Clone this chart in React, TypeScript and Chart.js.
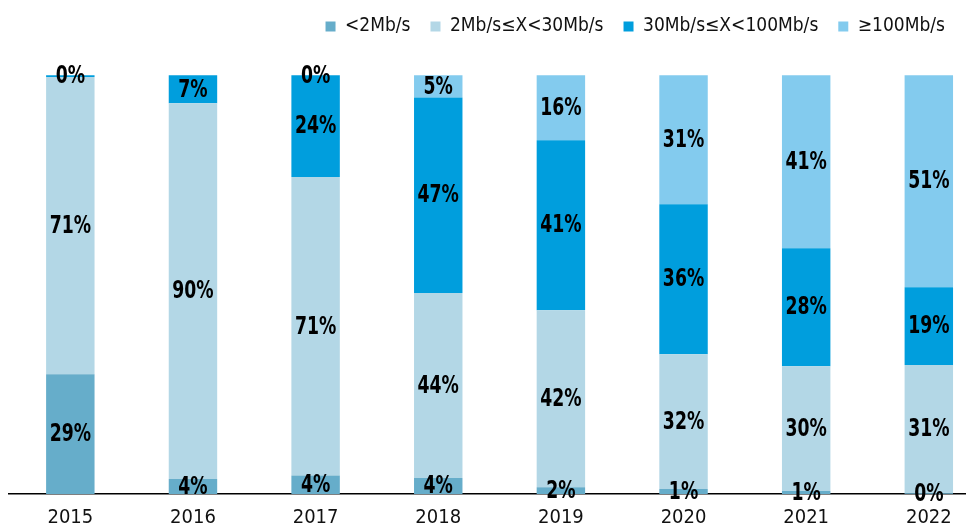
import { useEffect, useRef } from 'react';
import { Chart, registerables } from 'chart.js';

Chart.register(...registerables);

// ---- data ----
const categories = ['2015', '2016', '2017', '2018', '2019', '2020', '2021', '2022'];
const seriesNames = ['<2Mb/s', '2Mb/s≤X<30Mb/s', '30Mb/s≤X<100Mb/s', '≥100Mb/s'];
const below2 = [28.6, 3.6, 4.4, 3.8, 1.6, 1.2, 0.7, 0.2];
const from2to30 = [71.0, 89.7, 71.3, 44.2, 42.3, 32.2, 29.8, 30.6];
const from30to100 = [0.4, 6.7, 24.3, 46.7, 40.6, 35.8, 28.2, 18.6];
const above100: (number | null)[] = [null, null, 0, 5.3, 15.5, 30.8, 41.3, 50.6];
const seriesColors = ['#66ADCA', '#B3D7E6', '#009EDD', '#83CBEE'];

const FONT = '"DejaVu Sans Condensed", "DejaVu Sans", sans-serif';

const valueLabels = {
  id: 'valueLabels',
  afterDatasetsDraw(chart: any) {
    const ctx = chart.ctx;
    chart.data.datasets.forEach((ds: any, di: number) => {
      const meta = chart.getDatasetMeta(di);
      meta.data.forEach((bar: any, i: number) => {
        const v = ds.data[i].y;
        if (v === null || v === undefined) return;
        const p = bar.getProps(['x', 'y', 'base'], true);
        ctx.save();
        ctx.font = `bold 24px ${FONT}`;
        ctx.fillStyle = '#000';
        ctx.textAlign = 'center';
        ctx.textBaseline = 'middle';
        ctx.translate(p.x, (p.y + p.base) / 2);
        ctx.scale(0.8, 1);
        ctx.fillText(Math.round(v) + '%', 0, 1);
        ctx.restore();
      });
    });
  },
};

export default function App() {
  const ref = useRef<HTMLCanvasElement | null>(null);

  useEffect(() => {
    document.body.style.overflow = 'hidden';
    document.documentElement.style.overflow = 'hidden';
    if (!ref.current) return;
    const series = [below2, from2to30, from30to100, above100];
    const chart = new Chart(ref.current, {
      type: 'bar',
      data: {
        datasets: series.map((vals, si) => ({
          label: seriesNames[si],
          data: vals.map((v, i) => ({ x: i, y: v })),
          backgroundColor: seriesColors[si],
          borderWidth: 0,
          barPercentage: 0.395,
          categoryPercentage: 1,
        })),
      },
      options: {
        animation: false,
        responsive: false,
        layout: { padding: { left: 1, right: 15, top: 0, bottom: 0 } },
        plugins: {
          legend: {
            position: 'top',
            align: 'end',
            labels: {
              boxWidth: 10,
              boxHeight: 10,
              padding: 20,
              color: '#111',
              font: { family: FONT, size: 19 },
            },
          },
          tooltip: { enabled: false },
        },
        scales: {
          x: {
            type: 'linear',
            stacked: true,
            offset: false,
            min: -0.5,
            max: 7.295,
            grid: { display: false, drawTicks: false, offset: false },
            border: { display: true, color: '#000', width: 1.5 },
            ticks: {
              stepSize: 1,
              includeBounds: false,
              autoSkip: false,
              maxRotation: 0,
              padding: 12,
              color: '#111',
              font: { family: FONT, size: 20 },
              callback: (v: any) => categories[v] ?? '',
            },
          },
          y: { stacked: true, min: 0, max: 107, display: false },
        },
      } as any,
      plugins: [valueLabels],
    });
    return () => chart.destroy();
  }, []);

  return (
    <div style={{ position: 'relative', width: 972, height: 518 }}>
      <canvas
        ref={ref}
        width={972}
        height={545}
        style={{ position: 'absolute', left: 0, top: -11.5, width: 972, height: 545 }}
      />
    </div>
  );
}
